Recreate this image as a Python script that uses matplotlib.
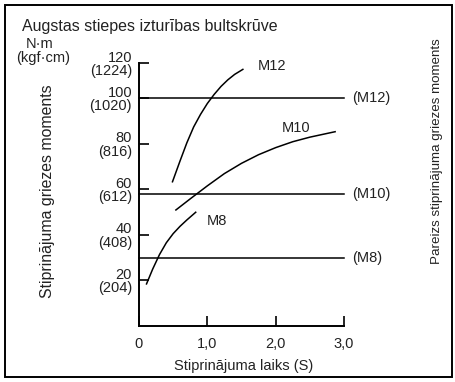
import matplotlib
matplotlib.use('Agg')
import matplotlib.pyplot as plt
from matplotlib.patches import Rectangle

plt.rcParams['font.family'] = ['Liberation Sans', 'DejaVu Sans']

# Tightening torque vs. tightening time for high-tension bolts
m12_t = [0.49, 0.60, 0.70, 0.80, 0.90, 1.00, 1.10, 1.20, 1.30, 1.40, 1.52]
m12_nm = [63.4, 72.5, 80.5, 87.5, 93.0, 97.8, 101.8, 105.3, 108.2, 110.6, 112.8]
m10_t = [0.54, 0.75, 1.00, 1.25, 1.50, 1.75, 2.00, 2.25, 2.50, 2.70, 2.87]
m10_nm = [51.0, 55.9, 61.6, 67.0, 71.5, 75.3, 78.4, 81.0, 83.0, 84.3, 85.4]
m8_t = [0.11, 0.20, 0.30, 0.40, 0.50, 0.60, 0.70, 0.83]
m8_nm = [18.5, 25.0, 31.4, 36.6, 40.6, 43.8, 46.6, 50.0]

# correct tightening torque per bolt size
spec_labels = ['(M12)', '(M10)', '(M8)']
spec_nm = [100, 58, 30]

x_ticks = [0, 1.0, 2.0, 3.0]
x_tick_labels = ['0', '1,0', '2,0', '3,0']
y_top = 115.6
y_ticks = [20, 40, 60, 80, 100, y_top]
y_tick_labels = ['20\n(204)', '40\n(408)', '60\n(612)', '80\n(816)', '100\n(1020)', '120\n(1224)']

TXT = '#222222'
W, H = 456, 382

fig = plt.figure(figsize=(W / 100, H / 100), dpi=100)
ax = fig.add_axes([139 / W, 1 - 326 / H, (344 - 139) / W, (326 - 63) / H])

for t, v in [(m12_t, m12_nm), (m10_t, m10_nm), (m8_t, m8_nm)]:
    ax.plot(t, v, color='black', lw=1.1)
for lab, v in zip(spec_labels, spec_nm):
    ax.plot([0, 3.0], [v, v], color='black', lw=1.1, clip_on=False)
    ax.text(3.12, v, lab, fontsize=10.5, color=TXT, ha='left', va='center')

ax.text(1.95, 114.3, 'M12', fontsize=10.5, color=TXT, ha='center', va='center')
ax.text(2.30, 87.0, 'M10', fontsize=10.5, color=TXT, ha='center', va='center')
ax.text(1.14, 46.2, 'M8', fontsize=10.5, color=TXT, ha='center', va='center')

ax.set_xlim(0, 3.0)
ax.set_ylim(0, y_top)
ax.set_xticks(x_ticks)
ax.set_xticklabels(x_tick_labels)
ax.set_yticks(y_ticks)
ax.set_yticklabels(y_tick_labels)
for lbl in ax.get_yticklabels():
    lbl.set_linespacing(0.95)
ax.tick_params(direction='in', length=7, width=1.2, labelsize=10.5,
               labelcolor=TXT, pad=5)
ax.tick_params(axis='x', pad=8)
for s in ['top', 'right']:
    ax.spines[s].set_visible(False)
for s in ['left', 'bottom']:
    ax.spines[s].set_linewidth(1.4)

fig.text(22 / W, 1 - 26 / H, 'Augstas stiepes izturības bultskrūve',
         fontsize=11.5, color=TXT, ha='left', va='center')
fig.text(40 / W, 1 - 44 / H, 'N·m', fontsize=10.5, color=TXT, ha='center', va='center')
fig.text(43 / W, 1 - 58 / H, '(kgf·cm)', fontsize=10.5, color=TXT, ha='center', va='center')
fig.text(48 / W, 1 - 191 / H, 'Stiprinājuma griezes moments', fontsize=11.4,
         color=TXT, rotation=90, ha='center', va='center')
fig.text(437 / W, 1 - 151 / H, 'Pareizs stiprinājuma griezes moments', fontsize=9.6,
         color=TXT, rotation=90, ha='center', va='center')
fig.text(244 / W, 1 - 366 / H, 'Stiprinājuma laiks (S)', fontsize=10.5,
         color=TXT, ha='center', va='center')

fig.patches.append(Rectangle((5 / W, 5 / H), 447 / W, 372 / H, transform=fig.transFigure,
                             fill=False, edgecolor='black', lw=1.4))

fig.savefig('out.png', dpi=100)
